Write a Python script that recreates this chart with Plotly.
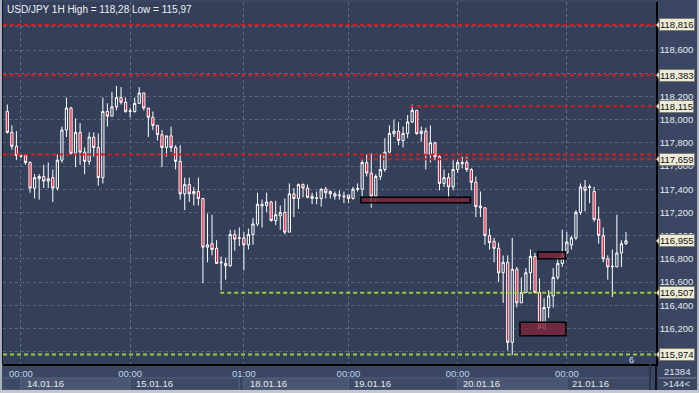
import plotly.graph_objects as go

# ---------------- data ----------------
open_ = [118.07,117.89,117.77,117.685,117.69,117.63,117.41,117.49,117.51,117.47,
         117.50,117.41,117.65,117.91,118.10,117.71,117.89,117.72,117.64,117.85,
         117.76,117.50,118.07,118.03,118.11,118.19,118.15,118.07,118.07,118.14,
         118.23,118.10,118.02,117.95,117.87,117.76,117.86,117.76,117.64,117.36,
         117.44,117.36,117.38,117.32,116.90,116.93,116.89,116.765,116.76,116.74,
         117.01,116.975,116.98,116.92,117.01,117.10,117.255,117.26,117.29,117.13,
         117.17,117.20,117.03,117.36,117.32,117.44,117.41,117.34,117.32,117.32,
         117.40,117.38,117.34,117.345,117.335,117.35,117.32,117.40,117.40,117.63,
         117.54,117.34,117.51,117.57,117.72,117.88,117.90,117.82,117.88,117.98,
         118.08,117.88,117.90,117.70,117.80,117.68,117.45,117.50,117.42,117.57,
         117.62,117.63,117.57,117.46,117.255,117.24,117.00,116.95,116.89,116.68,
         116.77,116.08,116.71,116.42,116.51,116.68,116.82,116.51,116.20,116.38,
         116.48,116.64,116.76,116.85,116.92,116.98,117.20,117.42,117.415,117.38,
         117.14,117.00,116.80,116.73,116.73,116.85,116.93]
high = [118.13,117.95,117.90,117.70,117.70,117.64,117.53,117.53,117.61,117.63,
        117.57,117.70,117.94,118.19,118.11,118.01,117.97,117.76,117.89,117.89,
        117.88,118.19,118.14,118.24,118.29,118.28,118.19,118.10,118.19,118.28,
        118.23,118.10,118.07,117.95,117.91,117.86,117.94,117.78,117.78,117.50,
        117.50,117.42,117.50,117.32,117.19,117.18,116.96,116.82,116.81,117.05,
        117.05,117.07,117.03,117.06,117.15,117.37,117.31,117.37,117.30,117.30,
        117.26,117.32,117.45,117.41,117.45,117.45,117.44,117.37,117.38,117.41,
        117.42,117.39,117.38,117.39,117.38,117.35,117.42,117.45,117.66,117.70,
        117.71,117.53,117.70,117.84,117.95,118.00,117.98,117.94,118.04,118.13,
        118.08,117.94,117.93,117.95,117.81,117.70,117.57,117.54,117.65,117.65,
        117.68,117.68,117.58,117.51,117.38,117.24,117.06,116.98,116.94,116.83,
        116.83,116.98,116.73,116.64,116.72,116.88,116.85,116.63,116.46,116.53,
        116.72,116.82,117.05,117.03,117.00,117.22,117.45,117.48,117.44,117.42,
        117.25,117.07,116.83,116.88,117.18,116.96,117.03]
low = [117.88,117.74,117.65,117.67,117.61,117.37,117.32,117.31,117.41,117.41,
       117.29,117.39,117.63,117.85,117.70,117.59,117.61,117.53,117.61,117.68,
       117.43,117.45,117.94,118.03,118.08,118.13,118.06,118.02,118.06,118.14,
       118.08,117.85,117.91,117.82,117.59,117.68,117.72,117.57,117.31,117.22,
       117.29,117.26,117.26,116.59,116.77,116.83,116.76,116.53,116.62,116.73,
       116.87,116.91,116.70,116.88,116.92,117.08,117.07,117.20,117.12,117.09,
       117.05,117.01,117.03,117.16,117.23,117.33,117.32,117.27,117.27,117.25,
       117.32,117.32,117.31,117.31,117.28,117.28,117.31,117.38,117.34,117.51,
       117.24,117.28,117.48,117.55,117.71,117.85,117.78,117.76,117.84,117.97,
       117.87,117.81,117.57,117.63,117.65,117.39,117.42,117.31,117.39,117.54,
       117.58,117.55,117.39,117.16,117.16,116.92,116.88,116.77,116.60,116.42,
       116.01,115.97,116.38,116.42,116.51,116.53,116.50,116.20,116.19,116.29,
       116.38,116.62,116.73,116.85,116.88,116.96,117.18,117.21,117.28,117.12,
       116.93,116.77,116.62,116.47,116.73,116.73,116.92]
close = [117.89,117.77,117.69,117.69,117.63,117.41,117.50,117.51,117.47,117.49,
         117.41,117.65,117.91,118.10,117.71,117.89,117.72,117.64,117.85,117.76,
         117.50,118.07,118.03,118.11,118.19,118.15,118.07,118.075,118.14,118.23,
         118.10,118.02,117.95,117.87,117.76,117.86,117.76,117.64,117.36,117.44,
         117.36,117.38,117.32,116.90,116.92,116.88,116.76,116.77,116.74,117.01,
         116.97,116.98,116.92,117.01,117.10,117.27,117.27,117.29,117.13,117.18,
         117.20,117.03,117.36,117.32,117.44,117.41,117.33,117.32,117.325,117.40,
         117.37,117.36,117.36,117.35,117.34,117.32,117.40,117.405,117.63,117.54,
         117.34,117.51,117.57,117.72,117.88,117.90,117.82,117.88,117.98,118.08,
         117.88,117.90,117.70,117.80,117.68,117.45,117.50,117.42,117.57,117.63,
         117.63,117.57,117.46,117.25,117.24,117.00,116.94,116.89,116.68,116.77,
         116.08,116.71,116.42,116.51,116.68,116.82,116.51,116.20,116.38,116.48,
         116.64,116.76,116.83,116.945,116.98,117.20,117.42,117.39,117.42,117.14,
         117.00,116.80,116.73,116.735,116.85,116.93,116.955]
bar_index = list(range(len(open_)))

tick_idx = [3, 27, 52, 75, 99, 123]
tick_time = ["00:00", "00:00", "01:00", "00:00", "00:00", "00:00"]
day_labels = ["14.01.16", "15.01.16", "18.01.16", "19.01.16", "20.01.16", "21.01.16"]
day_spans = [(-1, 3), (3, 27), (27, 51), (52, 75), (75, 99), (99, 123), (123, 141.5)]

y_ticks = [116.0, 116.2, 116.4, 116.6, 116.8, 117.0, 117.2, 117.4, 117.6,
           117.8, 118.0, 118.2, 118.4, 118.6, 118.8]
# tick labels hidden behind the level labels in the reference
y_tick_hidden = [116.0, 118.4, 118.8]

red_levels = [118.816, 118.383, 118.115, 117.700, 117.659]
red_starts = [None, None, 88.5, None, 77.5]
green_levels = [116.507, 115.974]
green_starts = [46.8, None]
label_levels = [118.816, 118.383, 118.115, 117.659, 116.955, 116.507, 115.974]
zones = [(77.7, 101.8, 117.284, 117.330),
         (116.6, 122.7, 116.801, 116.859),
         (112.7, 122.8, 116.137, 116.253)]

title_text = "USD/JPY 1H High = 118,28 Low = 115,97"
bar_count = "21384"
visible_bars = ">144<"


def fmt(v):
    return f"{v:.3f}".replace(".", ",")


y_ticktext = ["" if v in y_tick_hidden else fmt(v) for v in y_ticks]

# ---------------- figure ----------------
FONT = "Liberation Sans, Arial, sans-serif"
X_RANGE = [-0.95, 142.6]
Y_RANGE = [115.893, 119.014]

fig = go.Figure()
fig.add_trace(go.Candlestick(
    x=bar_index, open=open_, high=high, low=low, close=close,
    increasing=dict(line=dict(color="#ffffff", width=1), fillcolor="rgba(0,0,0,0)"),
    decreasing=dict(line=dict(color="#ffffff", width=1), fillcolor="#e3112e"),
    whiskerwidth=0, showlegend=False, hoverinfo="skip"))

shapes = []
annotations = []

# horizontal levels
for lv, st in zip(red_levels, red_starts):
    if st is None:
        shapes.append(dict(type="line", xref="paper", yref="y", x0=0, x1=1, y0=lv, y1=lv,
                           line=dict(color="#e01818", width=2, dash="4px,3px")))
    else:
        shapes.append(dict(type="line", xref="x", yref="y", x0=st, x1=X_RANGE[1], y0=lv, y1=lv,
                           line=dict(color="#e01818", width=2, dash="4px,3px")))
for lv, st in zip(green_levels, green_starts):
    if st is None:
        shapes.append(dict(type="line", xref="paper", yref="y", x0=0, x1=1, y0=lv, y1=lv,
                           line=dict(color="#9ccc3a", width=2, dash="4px,3px")))
    else:
        shapes.append(dict(type="line", xref="x", yref="y", x0=st, x1=X_RANGE[1], y0=lv, y1=lv,
                           line=dict(color="#9ccc3a", width=2, dash="4px,3px")))

# zones
for x0, x1, y0, y1 in zones:
    shapes.append(dict(type="rect", xref="x", yref="y", x0=x0, x1=x1, y0=y0, y1=y1,
                       fillcolor="rgba(125,34,58,0.80)", line=dict(color="#000000", width=1.5)))

# date boxes in x-axis area
for k, (a, b) in enumerate(day_spans):
    shapes.append(dict(type="rect", xref="x", yref="paper", x0=a, x1=b, y0=-0.0387, y1=-0.0718,
                       fillcolor="#4a5671" if k % 2 == 1 else "#3e4a65",
                       line=dict(color="#56627b", width=1), layer="below"))
for t, lab in zip(tick_idx, day_labels):
    annotations.append(dict(x=t + 0.8, y=-0.0552, xref="x", yref="paper", text=lab,
                            showarrow=False, xanchor="left", yanchor="middle",
                            font=dict(family=FONT, size=9.5, color="#e4e8ee")))

# price labels on right axis
for lv in label_levels:
    annotations.append(dict(x=1, xref="paper", y=lv, yref="y", text=fmt(lv), showarrow=False,
                            xanchor="left", yanchor="middle", xshift=3,
                            bgcolor="#eeecd8", bordercolor="#7d7d70", borderwidth=1, borderpad=0,
                            font=dict(family=FONT, size=9.5, color="#111111")))
    shapes.append(dict(type="path", xref="paper", yref="y",
                       path=f"M 1.0005,{lv} L 1.0062,{lv + 0.042} L 1.0062,{lv - 0.042} Z",
                       fillcolor="#eeecd8", line=dict(color="#7d7d70", width=1)))

# frame details
shapes += [
    dict(type="line", xref="paper", yref="paper", x0=1, x1=1, y0=0, y1=-0.0718,
         line=dict(color="#000000", width=1.5)),
    dict(type="line", xref="paper", yref="paper", x0=1.004, x1=1.062, y0=-0.0387, y1=-0.0387,
         line=dict(color="#7d8aa2", width=1)),
    dict(type="line", xref="paper", yref="paper", x0=0.991, x1=0.991, y0=0, y1=-0.0718,
         line=dict(color="#2a3448", width=2)),
    dict(type="rect", xref="paper", yref="paper", x0=-0.01, x1=1.07, y0=-0.0718, y1=-0.09,
         fillcolor="#c3c7ce", line=dict(width=0)),
    dict(type="rect", xref="paper", yref="paper", x0=-0.0046, x1=-0.0015, y0=-0.0718, y1=1.01,
         fillcolor="#a9b1bd", line=dict(width=0)),
    dict(type="line", xref="paper", yref="paper", x0=-0.0008, x1=-0.0008, y0=0, y1=1.01,
         line=dict(color="#11151d", width=1)),
    dict(type="rect", xref="paper", yref="paper", x0=1.0628, x1=1.07, y0=-0.0718, y1=1.01,
         fillcolor="#a9b1bd", line=dict(width=0)),
]

annotations += [
    dict(x=0, y=1, xref="paper", yref="paper", text=title_text, showarrow=False,
         xanchor="left", yanchor="top", xshift=2, yshift=0,
         font=dict(family=FONT, size=10, color="#eef1f5")),
    dict(x=1.032, y=-0.022, xref="paper", yref="paper", text=bar_count, showarrow=False,
         xanchor="center", yanchor="middle", font=dict(family=FONT, size=9.5, color="#dfe4ec")),
    dict(x=1.032, y=-0.055, xref="paper", yref="paper", text=visible_bars, showarrow=False,
         xanchor="center", yanchor="middle", font=dict(family=FONT, size=9.5, color="#dfe4ec")),
    dict(x=0.963, y=0.011, xref="paper", yref="paper", text="6", showarrow=False,
         xanchor="center", yanchor="middle", font=dict(family=FONT, size=9, color="#cfe2ff")),
]

fig.update_layout(
    width=699, height=393,
    margin=dict(l=3, r=43, t=2, b=29, pad=0),
    paper_bgcolor="#3b4762", plot_bgcolor="#34405a",
    separators=", ",
    showlegend=False,
    shapes=shapes, annotations=annotations,
    xaxis=dict(range=X_RANGE, rangeslider=dict(visible=False),
               tickmode="array", tickvals=tick_idx, ticktext=tick_time,
               showgrid=True, gridcolor="#5f6f8c", griddash="dot", gridwidth=1,
               zeroline=False, showline=True, linecolor="#000000", linewidth=1.5,
               ticks="", tickfont=dict(family=FONT, size=9.5, color="#bcd5ef")),
    yaxis=dict(range=Y_RANGE, side="right", tickmode="array", tickvals=y_ticks,
               ticktext=y_ticktext, showgrid=True, gridcolor="#5a6985", griddash="dot",
               gridwidth=1, zeroline=False, showline=True, linecolor="#000000", linewidth=1.5,
               ticks="", tickfont=dict(family=FONT, size=9.5, color="#e6eaf0")),
)

fig.write_html("out.html", config={"displayModeBar": False},
               post_script="document.body.style.margin='0';document.body.style.overflow='hidden';")
